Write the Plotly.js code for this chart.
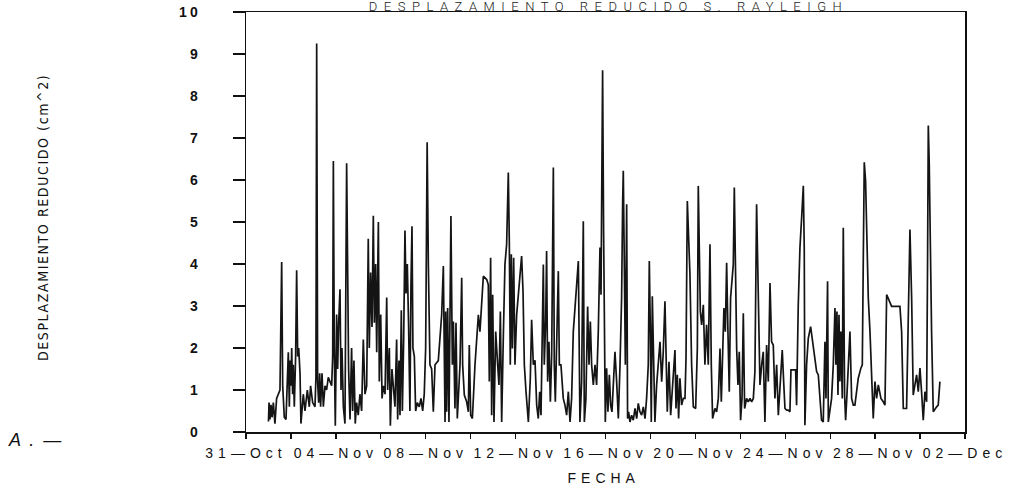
<!DOCTYPE html>
<html>
<head>
<meta charset="utf-8">
<script src="https://cdn.plot.ly/plotly-3.0.1.min.js"></script>
<style>
  html, body { margin: 0; padding: 0; background: #fff; }
  #chart { width: 1021px; height: 491px; }
  #chart .xtick text { letter-spacing: 5px; }
  #chart .ytick text { letter-spacing: 3px; }
  #chart .gtitle { letter-spacing: 6.5px; }
  #chart g.annotation[data-index="0"] text { letter-spacing: 5px; }
  #chart g.annotation[data-index="1"] text { letter-spacing: 1.6px; }
  #chart g.annotation[data-index="2"] text { letter-spacing: 2px; }
</style>
</head>
<body>
<div id="chart"></div>
<script>
// Reduced displacement of the Rayleigh wave, read every few hours.
// Times are hours counted from 31-Oct 00:00.
const horas = [
  24.0, 24.6, 25.6, 26.7, 27.8, 29.2, 30.9, 32.7, 36.3, 38.1, 39.2, 40.9, 42.7, 45.2, 46.3, 47.0,
  48.1, 48.8, 49.8, 50.5, 51.6, 53.0, 54.1, 55.2, 56.3, 57.7, 58.7, 61.2, 63.0, 65.5, 67.6, 69.0,
  71.2, 73.7, 74.7, 75.5, 76.5, 77.6, 78.7, 79.7, 81.2, 82.6, 84.4, 86.1, 87.9, 89.7, 91.5, 92.6,
  93.3, 94.3, 95.4, 96.8, 97.9, 99.0, 100.4, 101.5, 102.5, 104.0, 105.7, 107.5, 108.6, 109.6, 111.1, 112.8,
  113.9, 115.3, 116.7, 118.1, 119.9, 121.7, 123.5, 125.3, 127.1, 128.9, 130.6, 131.7, 133.1, 134.6, 136.0, 137.1,
  138.5, 139.6, 141.4, 142.4, 143.9, 145.3, 146.7, 148.5, 150.3, 151.3, 153.1, 154.2, 155.9, 157.4, 159.1, 160.9,
  162.0, 163.4, 164.5, 165.9, 167.0, 168.4, 169.8, 170.9, 172.3, 173.7, 175.1, 176.2, 177.3, 178.3, 179.8, 181.2,
  183.0, 185.1, 186.9, 188.7, 190.4, 191.9, 193.5,
  194.8, 196.5, 198.3, 200.1, 201.9, 205.4, 209.0, 210.8, 212.6, 213.3, 214.3, 215.4, 216.8, 217.9, 218.9, 220.4,
  221.5, 223.2, 224.3, 225.7, 226.8, 228.6, 230.4, 231.4, 233.2, 235.7, 237.5, 238.5, 240.0, 241.8, 244.6, 248.2,
  249.9, 251.7, 253.5, 257.1, 258.8, 259.9, 261.3, 262.4, 263.5, 264.9, 266.7, 268.8, 270.2, 271.7, 273.1, 274.9,
  276.6, 278.4, 280.2, 281.3, 282.3, 283.4, 284.5, 285.9, 287.3, 289.1, 290.9, 293.0, 294.4, 295.9, 297.3, 299.1,
  301.6, 303.7, 305.1, 306.9, 308.7, 310.5, 312.2, 313.7, 315.1, 317.6, 318.6, 320.1, 321.1, 322.2, 323.6, 325.1,
  326.5, 328.3, 329.3, 330.4, 331.8, 333.6, 334.7, 336.4, 338.9, 340.7, 342.5, 344.3, 346.1, 347.8, 349.6, 352.1,
  355.0, 356.7, 358.5, 360.3, 361.4, 363.1, 364.9, 366.4, 367.8, 369.2, 371.0, 372.8, 374.5, 376.3, 378.1, 379.2,
  380.9, 382.0, 382.7, 383.8, 385.2, 386.6, 388.1, 389.5, 390.9, 392.3, 394.1, 395.9, 397.7, 399.5, 401.2, 402.3,
  403.0, 404.1, 405.2, 406.6, 407.6, 408.7, 410.1, 411.9, 413.7, 415.5, 417.3, 419.0, 420.8, 422.6, 424.4, 426.2,
  427.9, 429.7, 430.8, 431.9, 432.9, 434.0, 435.1, 436.8, 438.6, 440.4, 442.2, 444.0, 445.7, 447.5, 448.6, 450.0,
  451.8, 453.6, 455.7, 458.2, 459.3, 460.7, 462.1, 463.5, 465.3, 467.1, 468.9, 470.0, 471.4, 472.8, 474.2, 476.0,
  477.8, 480.3, 482.1, 483.1, 484.2, 485.3, 486.7, 488.5, 490.2, 492.0, 493.8, 495.6, 497.0, 498.4, 500.9, 502.7,
  504.5, 506.3, 507.7, 509.1, 510.5, 512.0, 513.4, 514.8, 516.2, 517.6, 519.1, 520.5, 521.6, 523.0, 524.1, 525.5,
  526.9, 528.3, 529.8, 531.2, 532.6, 534.7, 536.5, 538.3, 540.1, 541.9, 543.6, 545.4, 546.5, 547.9, 549.0, 550.8,
  552.5, 554.3, 556.1, 557.9, 559.7, 561.4, 563.2, 565.0, 566.8, 568.6,
  570.3, 572.8, 574.3, 575.7, 577.5, 579.2, 581.0, 582.1, 587.1, 588.1, 589.9, 591.7, 593.5, 595.3, 596.3, 597.0,
  598.8, 600.6, 603.1, 605.9, 609.5, 611.3, 613.1, 614.8, 616.6, 618.4, 619.5, 621.2, 622.0, 623.7, 625.5, 627.3,
  629.1, 630.1, 631.2, 632.3, 633.4, 634.4, 635.5, 636.9, 638.0, 639.4, 640.5, 641.9, 643.3, 645.1, 646.9, 648.7,
  650.4, 652.2, 654.0, 656.8, 658.3, 659.3, 660.4, 661.8, 662.9, 664.7, 666.5, 668.2, 670.0, 671.8, 673.6, 675.4,
  678.2, 680.7, 682.5, 684.3, 686.0, 687.8, 689.6, 693.2, 698.5, 700.3, 702.1, 705.6, 707.4, 709.2, 711.0, 712.7,
  714.5, 716.3, 718.1, 719.9, 721.6, 723.4, 725.2, 727.0, 728.0, 728.8, 729.8, 730.9, 732.3, 734.1, 735.9, 737.7,
  739.4, 741.2
];

// Reduced displacement, cm^2
const desplazamiento = [
  0.25, 0.70, 0.30, 0.65, 0.35, 0.70, 0.20, 0.80, 1.00, 4.05, 1.10, 0.35, 0.30, 1.90, 0.60, 1.70,
  1.10, 2.00, 0.90, 1.60, 0.60, 1.80, 3.85, 1.80, 2.00, 1.40, 0.20, 0.90, 0.50, 1.00, 0.60, 1.10,
  0.70, 0.60, 1.30, 9.25, 1.20, 0.70, 1.40, 0.60, 1.40, 0.60, 1.10, 1.00, 1.30, 1.20, 1.10, 1.80,
  6.45, 2.00, 0.15, 2.80, 1.50, 2.60, 3.40, 1.00, 2.00, 0.60, 0.20, 6.40, 3.00, 1.50, 0.30, 2.00,
  0.50, 1.70, 0.20, 0.70, 0.40, 0.90, 0.50, 2.20, 0.90, 1.10, 4.60, 2.00, 3.80, 2.50, 5.15, 2.60,
  4.00, 1.90, 5.00, 1.20, 2.80, 0.80, 1.10, 0.90, 3.20, 1.00, 2.00, 0.15, 1.50, 1.00, 0.60, 2.20,
  0.30, 1.70, 0.40, 2.90, 0.50, 2.20, 4.80, 3.30, 4.00, 2.50, 0.50, 3.50, 4.90, 2.00, 1.80, 0.50,
  0.70, 0.60, 0.80, 0.50, 0.90, 2.00, 6.90,
  3.95, 1.60, 1.50, 0.48, 1.60, 1.70, 2.79, 3.95, 0.24, 2.87, 0.48, 2.95, 0.24, 2.39, 5.14, 1.60,
  2.63, 0.56, 2.60, 0.32, 0.80, 1.60, 3.67, 1.60, 0.88, 0.72, 0.48, 2.07, 0.40, 0.32, 1.60, 2.79,
  2.39, 3.03, 3.71, 3.63, 3.51, 1.20, 4.15, 0.40, 3.27, 0.24, 2.39, 1.60, 1.12, 2.87, 0.24, 2.31,
  3.99, 4.47, 6.18, 4.47, 1.60, 4.23, 1.99, 4.15, 1.60, 2.79, 3.35, 3.83, 4.19, 3.35, 1.60, 0.96,
  0.24, 1.28, 2.67, 1.60, 1.71, 0.64, 0.32, 0.96, 0.40, 3.99, 1.60, 2.63, 4.31, 1.20, 2.15, 0.72,
  1.83, 6.30, 1.60, 0.72, 2.39, 3.83, 1.60, 1.60, 0.80, 0.64, 0.40, 0.96, 0.24, 0.80, 2.39, 3.19,
  4.07, 0.24, 1.20, 5.02, 0.24, 0.80, 2.99, 1.60, 2.63, 1.60, 1.12, 1.60, 1.12, 2.39, 4.39, 3.27,
  8.61, 4.70, 1.60, 0.24, 1.52, 0.48, 1.36, 0.64, 0.48, 1.12, 1.91, 1.20, 0.32, 1.60, 3.19, 5.42,
  6.22, 3.99, 1.60, 5.42, 0.32, 0.48, 0.24, 0.40, 0.28, 0.56, 0.32, 0.68, 0.48, 0.40, 0.60, 0.32,
  0.80, 1.60, 4.07, 2.39, 0.24, 3.23, 1.60, 0.24, 1.12, 1.60, 2.15, 1.20, 1.91, 3.11, 1.67, 0.48,
  1.67, 0.40, 1.12, 1.95, 0.56, 1.36, 0.32, 1.28, 0.64, 0.80, 0.80, 1.75, 5.50, 4.78, 3.75, 1.60,
  0.60, 0.56, 1.99, 5.86, 3.99, 2.87, 2.55, 3.03, 1.60, 2.55, 1.60, 4.47, 1.60, 0.32, 0.56, 0.48,
  0.80, 1.99, 0.72, 1.60, 2.95, 2.39, 4.03, 2.39, 0.96, 3.19, 3.67, 3.99, 5.82, 3.19, 1.99, 1.12,
  1.91, 0.28, 0.80, 2.83, 0.56, 0.80, 0.72, 0.80, 0.72, 0.80, 1.44, 5.42, 3.99, 1.60, 1.12, 1.60,
  1.91, 0.24, 2.07, 1.20, 3.55, 2.15, 2.07, 0.80, 1.60, 0.40,
  0.96, 1.95, 1.20, 0.56, 0.52, 0.52, 0.48, 1.48, 1.48, 0.64, 3.03, 4.39, 5.10, 5.86, 4.39, 0.16,
  1.60, 2.23, 2.51, 1.99, 1.44, 1.36, 0.80, 0.28, 0.24, 2.15, 0.80, 3.59, 0.24, 0.56, 0.80, 1.60,
  2.95, 1.60, 2.87, 0.88, 2.79, 1.20, 2.39, 0.80, 4.86, 0.88, 0.28, 0.88, 1.60, 2.39, 0.80, 0.64,
  0.64, 0.96, 1.28, 1.52, 1.60, 3.99, 6.42, 5.98, 5.10, 3.19, 2.39, 1.20, 0.32, 1.20, 0.80, 1.12,
  0.80, 0.72, 0.64, 3.27, 3.19, 3.07, 2.99, 2.99, 2.99, 2.39, 0.56, 0.56, 3.19, 4.82, 3.19, 0.88,
  1.12, 1.36, 0.96, 1.52, 0.96, 0.28, 0.96, 0.72, 3.99, 7.30, 6.38, 4.31, 2.39, 0.48, 0.56, 0.60,
  0.64, 1.20
];

// Axis extent and tick spacing (days)
const inicio = '1991-10-31';
const fin = '1991-12-02';
const diasEtiqueta = 4;
const diasMarca = 2;
const DIA_MS = 86400000;

const inicioMs = Date.UTC(1991, 9, 31);
const fechas = horas.map(h => new Date(inicioMs + h * 3600000).toISOString().slice(0, 19).replace('T', ' '));

const fuenteEje = 'Liberation Sans, Arial, sans-serif';

const trace = {
  type: 'scatter',
  mode: 'lines',
  x: fechas,
  y: desplazamiento,
  line: { color: '#141414', width: 1.7 },
  hoverinfo: 'x+y'
};

const layout = {
  width: 1021,
  height: 491,
  margin: { l: 246, r: 56, t: 12, b: 59 },
  paper_bgcolor: '#ffffff',
  plot_bgcolor: '#ffffff',
  showlegend: false,
  title: {
    text: 'DESPLAZAMIENTO REDUCIDO S. RAYLEIGH',
    font: { family: 'Roboto, Liberation Sans, sans-serif', size: 13, color: '#1a1a1a', weight: 300 },
    x: 0.5 * (246 + 965) / 1021 + 0.003,
    xanchor: 'center',
    xref: 'container',
    yref: 'container',
    y: 0.996,
    yanchor: 'top',
    pad: { t: 0, b: 0, l: 0, r: 0 }
  },
  xaxis: {
    type: 'date',
    range: [inicio, fin],
    tick0: inicio,
    dtick: diasEtiqueta * DIA_MS,
    tickformat: '%d\u2014%b',
    ticks: 'outside',
    ticklen: 5,
    tickwidth: 1.3,
    tickcolor: '#111',
    ticklabelstandoff: 3,
    minor: { dtick: diasMarca * DIA_MS, tick0: inicio, ticks: 'outside', ticklen: 5, tickwidth: 1.3, tickcolor: '#111', showgrid: false },
    showgrid: false,
    zeroline: false,
    showline: true,
    mirror: true,
    linecolor: '#111',
    linewidth: 1.5,
    tickfont: { family: fuenteEje, size: 14, color: '#111' },
    fixedrange: true
  },
  yaxis: {
    range: [0, 10],
    dtick: 1,
    tick0: 0,
    ticks: 'outside',
    ticklen: 12,
    tickwidth: 1.3,
    tickcolor: '#111',
    ticklabelstandoff: 29,
    showgrid: false,
    zeroline: false,
    showline: true,
    mirror: true,
    linecolor: '#111',
    linewidth: 1.5,
    tickfont: { family: fuenteEje, size: 14, color: '#111', weight: 'bold' },
    fixedrange: true
  },
  annotations: [
    {
      text: 'FECHA',
      xref: 'paper', yref: 'paper',
      x: 0.498, y: -0.1095,
      xanchor: 'center', yanchor: 'middle',
      showarrow: false,
      font: { family: fuenteEje, size: 14, color: '#111' }
    },
    {
      text: 'DESPLAZAMIENTO REDUCIDO (cm^2)',
      xref: 'paper', yref: 'paper',
      x: -0.2823, y: 0.5095,
      xanchor: 'center', yanchor: 'middle',
      textangle: -90,
      showarrow: false,
      font: { family: 'DejaVu Sans Condensed, DejaVu Sans, sans-serif', size: 14, color: '#111' }
    },
    {
      text: 'A . \u2014',
      xref: 'paper', yref: 'paper',
      x: -0.327, y: -0.019,
      xanchor: 'left', yanchor: 'middle',
      showarrow: false,
      font: { family: fuenteEje, size: 18, color: '#111', style: 'italic' }
    }
  ]
};

Plotly.newPlot('chart', [trace], layout, { displayModeBar: false, staticPlot: true });
</script>
</body>
</html>
